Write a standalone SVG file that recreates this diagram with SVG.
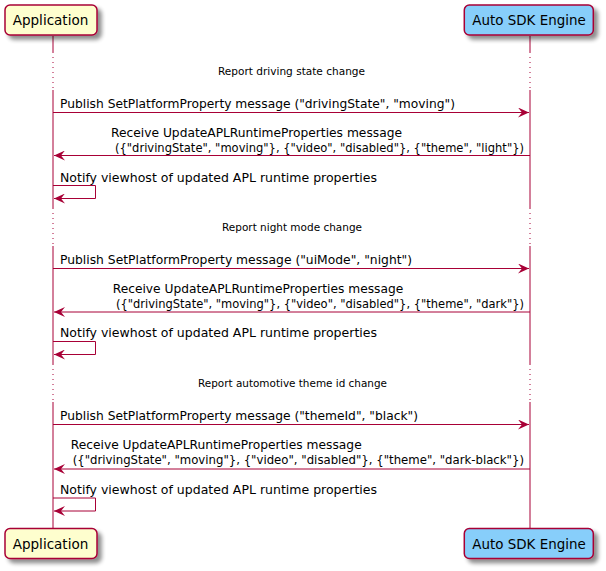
<svg xmlns="http://www.w3.org/2000/svg" width="606" height="571" viewBox="0 0 606 571">
<defs>
<filter id="sh" x="-10%" y="-20%" width="130%" height="160%">
<feGaussianBlur in="SourceAlpha" stdDeviation="2"/>
<feOffset dx="4" dy="4" result="b"/>
<feComponentTransfer><feFuncA type="linear" slope="0.45"/></feComponentTransfer>
<feMerge><feMergeNode/><feMergeNode in="SourceGraphic"/></feMerge>
</filter>
<marker id="ah" viewBox="0 0 12 10" refX="11" refY="5" markerWidth="12" markerHeight="10" markerUnits="userSpaceOnUse" orient="auto">
<path d="M0,0 L11,5 L0,10 L4,5 Z" fill="#A80036"/>
</marker>
</defs>
<style>
.box{stroke:#A80036;stroke-width:1.5}
.app{fill:#FEFECE}
.eng{fill:#87CEFA}
.life{stroke:#A80036;stroke-width:1;fill:none}
.dot{stroke:#A80036;stroke-width:1;stroke-dasharray:1,4;fill:none}
.msg{stroke:#A80036;stroke-width:1;fill:none}
text{font-family:"DejaVu Sans","Liberation Sans",sans-serif;fill:#000}
.t{font-size:12.8px}
.p{font-size:14px}
.d{font-size:10.5px}
</style>
<g id="lifelines">
<path class="life" d="M53,36 V52 M53,90 V208 M53,246 V364 M53,402 V528"/>
<path class="dot" d="M53,52 V90 M53,208 V246 M53,364 V402"/>
<path class="life" d="M530,36 V52 M530,90 V208 M530,246 V364 M530,402 V528"/>
<path class="dot" d="M530,52 V90 M530,208 V246 M530,364 V402"/>
</g>
<g id="app-top">
<rect class="box app" x="5" y="5" width="92" height="30" rx="5" filter="url(#sh)"/>
<text class="p" x="12.7" y="25" textLength="75.6" lengthAdjust="spacingAndGlyphs">Application</text>
</g>
<g id="engine-top">
<rect class="box eng" x="464.3" y="5" width="129" height="30" rx="5" filter="url(#sh)"/>
<text class="p" x="472.3" y="25" textLength="113.4" lengthAdjust="spacingAndGlyphs">Auto SDK Engine</text>
</g>
<g id="app-bottom">
<rect class="box app" x="5" y="528.5" width="92" height="30" rx="5" filter="url(#sh)"/>
<text class="p" x="12.7" y="548.5" textLength="75.6" lengthAdjust="spacingAndGlyphs">Application</text>
</g>
<g id="engine-bottom">
<rect class="box eng" x="464.3" y="528.5" width="129" height="30" rx="5" filter="url(#sh)"/>
<text class="p" x="472.3" y="548.5" textLength="113.4" lengthAdjust="spacingAndGlyphs">Auto SDK Engine</text>
</g>
<g id="connectors">
<line class="msg" x1="53" y1="112.5" x2="529" y2="112.5" marker-end="url(#ah)"/>
<line class="msg" x1="530" y1="155.5" x2="54" y2="155.5" marker-end="url(#ah)"/>
<polyline class="msg" points="53,185.5 95.5,185.5 95.5,198.5 54,198.5" marker-end="url(#ah)"/>
<line class="msg" x1="53" y1="268.5" x2="529" y2="268.5" marker-end="url(#ah)"/>
<line class="msg" x1="530" y1="312" x2="54" y2="312" marker-end="url(#ah)"/>
<polyline class="msg" points="53,341.5 95.5,341.5 95.5,354.5 54,354.5" marker-end="url(#ah)"/>
<line class="msg" x1="53" y1="424.5" x2="529" y2="424.5" marker-end="url(#ah)"/>
<line class="msg" x1="530" y1="469" x2="54" y2="469" marker-end="url(#ah)"/>
<polyline class="msg" points="53,498 95.5,498 95.5,511 54,511" marker-end="url(#ah)"/>
</g>
<g id="labels">
<text class="d" x="218" y="74.5" textLength="147" lengthAdjust="spacingAndGlyphs">Report driving state change</text>
<text class="t" x="60" y="107.5" textLength="395" lengthAdjust="spacingAndGlyphs">Publish SetPlatformProperty message ("drivingState", "moving")</text>
<text class="t" x="111" y="136.7" textLength="291" lengthAdjust="spacingAndGlyphs">Receive UpdateAPLRuntimeProperties message</text>
<text class="t" x="115" y="151.7" textLength="409" lengthAdjust="spacingAndGlyphs">({"drivingState", "moving"}, {"video", "disabled"}, {"theme", "light"})</text>
<text class="t" x="60" y="181.7" textLength="317" lengthAdjust="spacingAndGlyphs">Notify viewhost of updated APL runtime properties</text>
<text class="d" x="222" y="230.5" textLength="140" lengthAdjust="spacingAndGlyphs">Report night mode change</text>
<text class="t" x="60" y="263.7" textLength="352" lengthAdjust="spacingAndGlyphs">Publish SetPlatformProperty message ("uiMode", "night")</text>
<text class="t" x="112.7" y="293" textLength="290.6" lengthAdjust="spacingAndGlyphs">Receive UpdateAPLRuntimeProperties message</text>
<text class="t" x="116" y="308" textLength="408" lengthAdjust="spacingAndGlyphs">({"drivingState", "moving"}, {"video", "disabled"}, {"theme", "dark"})</text>
<text class="t" x="60" y="337" textLength="317" lengthAdjust="spacingAndGlyphs">Notify viewhost of updated APL runtime properties</text>
<text class="d" x="198" y="386.5" textLength="189" lengthAdjust="spacingAndGlyphs">Report automotive theme id change</text>
<text class="t" x="60" y="419.5" textLength="358" lengthAdjust="spacingAndGlyphs">Publish SetPlatformProperty message ("themeId", "black")</text>
<text class="t" x="70.7" y="449" textLength="291" lengthAdjust="spacingAndGlyphs">Receive UpdateAPLRuntimeProperties message</text>
<text class="t" x="72.7" y="464" textLength="451.3" lengthAdjust="spacingAndGlyphs">({"drivingState", "moving"}, {"video", "disabled"}, {"theme", "dark-black"})</text>
<text class="t" x="60" y="493.5" textLength="317" lengthAdjust="spacingAndGlyphs">Notify viewhost of updated APL runtime properties</text>
</g>
</svg>
